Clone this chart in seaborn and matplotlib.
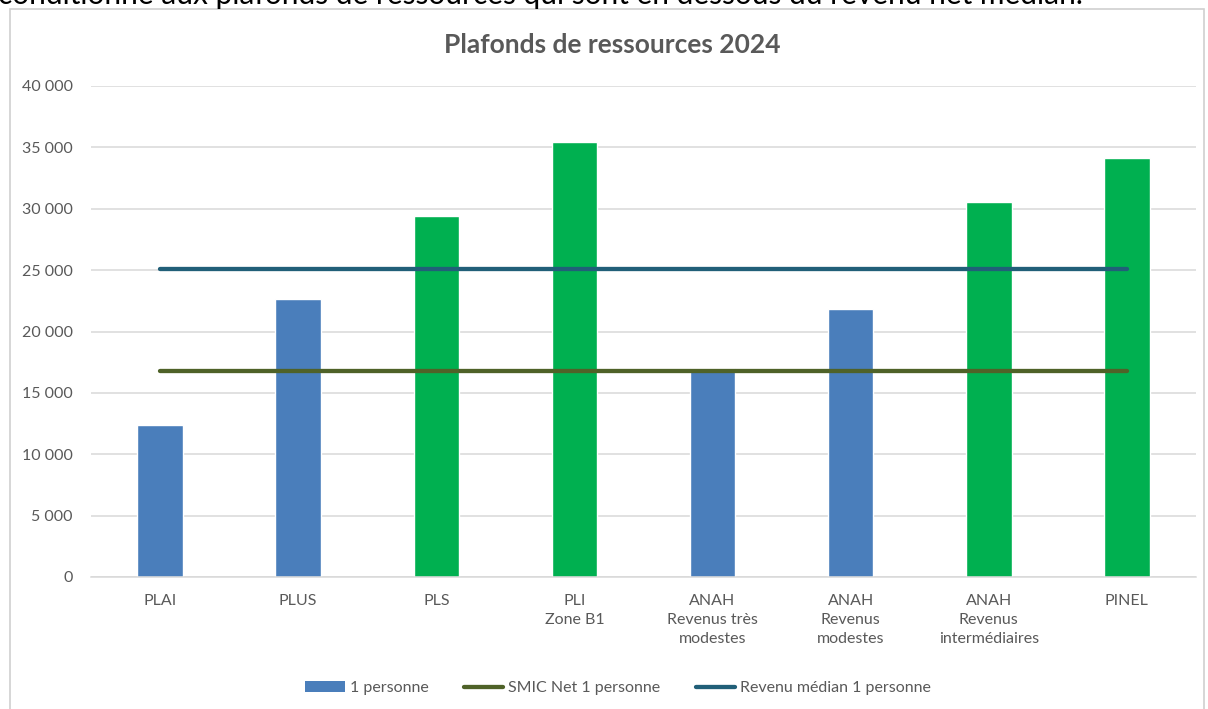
import matplotlib
matplotlib.use("Agg")
import matplotlib.pyplot as plt
from matplotlib.patches import Patch, Rectangle
from matplotlib.lines import Line2D
import seaborn as sns
import pandas as pd

# Plafonds de ressources annuels 2024 pour une personne seule
categories = ["PLAI", "PLUS", "PLS", "PLI\nZone B1", "ANAH\nRevenus très\nmodestes",
              "ANAH\nRevenus\nmodestes", "ANAH\nRevenus\nintermédiaires", "PINEL"]
plafonds = [12400, 22650, 29400, 35400, 17000, 21800, 30550, 34100]
# au-dessus du revenu médian : vert, sinon bleu
groupes = ["sous", "sous", "sur", "sur", "sous", "sous", "sur", "sur"]
smic_net = [16750] * len(categories)
revenu_median = [25100] * len(categories)
yticks = [0, 5000, 10000, 15000, 20000, 25000, 30000, 35000, 40000]

BLEU = "#4a7ebb"
VERT = "#00b050"
OLIVE = "#4f6228"
BLEU_CANARD = "#215f78"
GRIS = "#595959"

sns.set_theme(style="white")
plt.rcParams["font.family"] = ["Lato", "DejaVu Sans"]

W, H = 1208, 709
fig = plt.figure(figsize=(W / 100, H / 100), dpi=100)
ax = fig.add_axes([91 / W, 1 - 577 / H, (1196 - 91) / W, (577 - 86) / H])

df = pd.DataFrame({"categorie": categories, "plafond": plafonds, "groupe": groupes})
sns.barplot(data=df, x="categorie", y="plafond", hue="groupe",
            palette={"sous": BLEU, "sur": VERT}, width=0.33, dodge=False,
            legend=False, saturation=1, ax=ax, zorder=2)

sns.pointplot(x=categories, y=smic_net, color=OLIVE, markers="", linewidth=3.1,
              ax=ax, zorder=3)
sns.pointplot(x=categories, y=revenu_median, color=BLEU_CANARD, markers="", linewidth=3.1,
              ax=ax, zorder=3)

ax.set_ylim(0, 40000)
ax.set_xlim(-0.5, len(categories) - 0.5)
ax.set_yticks(yticks)
ax.set_yticklabels([f"{v:,}".replace(",", " ") for v in yticks], color=GRIS, fontsize=11.5)
ax.set_xticks(range(len(categories)))
ax.set_xticklabels(categories, color=GRIS, fontsize=11.5, linespacing=1.45, va="top")
ax.tick_params(axis="x", length=0, pad=12)
ax.tick_params(axis="y", length=0, pad=13)
ax.set_xlabel("")
ax.set_ylabel("")
ax.yaxis.grid(True, color="#d9d9d9", linewidth=1.1, zorder=0)
ax.set_axisbelow(True)
for s in ["left", "right", "top"]:
    ax.spines[s].set_visible(False)
ax.spines["bottom"].set_color("#d9d9d9")
ax.spines["bottom"].set_linewidth(1.1)

# cadre du graphique
fig.patches.append(Rectangle((10 / W, -0.05), (1204 - 10) / W, 1.05 - 9 / H,
                             transform=fig.transFigure, fill=False,
                             edgecolor="#d0d0d0", linewidth=1.2, zorder=0))

fig.text(612 / W, 1 - 45 / H, "Plafonds de ressources 2024", ha="center", va="center",
         fontsize=19, fontweight="bold", color=GRIS)

# fin de la phrase qui précède le graphique
fig.text(-2 / W, 1 - 4 / H,
         "conditionne aux plafonds de ressources qui sont en dessous du revenu net médian.",
         ha="left", va="baseline", fontsize=21.5, color="black")

handles = [Patch(facecolor=BLEU, edgecolor="none"),
           Line2D([], [], color=OLIVE, linewidth=3.1),
           Line2D([], [], color=BLEU_CANARD, linewidth=3.1)]
labels = ["1 personne", "SMIC Net 1 personne", "Revenu médian 1 personne"]
fig.legend(handles, labels, loc="center", bbox_to_anchor=(618 / W, 1 - 688 / H),
           ncol=3, frameon=False, fontsize=11.5, handlelength=2.5, handletextpad=0.3,
           columnspacing=2.2, labelcolor=GRIS)

fig.savefig("out.png", dpi=100)
